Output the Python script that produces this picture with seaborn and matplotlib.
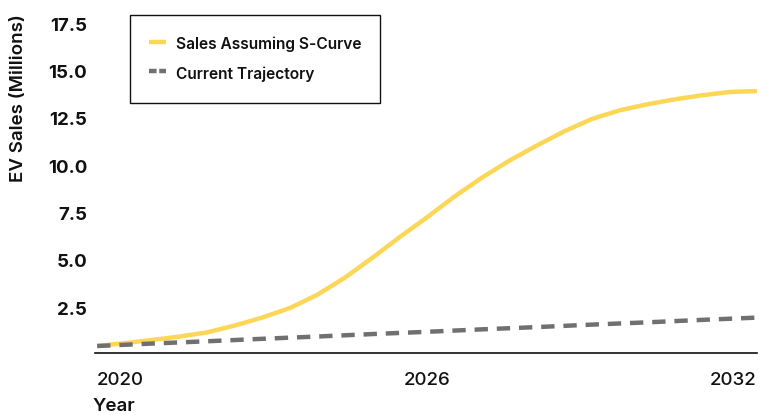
import numpy as np
import pandas as pd
import matplotlib
matplotlib.use("Agg")
import matplotlib.pyplot as plt
import seaborn as sns
from matplotlib.lines import Line2D

# Data
s_years = [2020.0, 2020.5, 2021.0, 2021.5, 2022.0, 2022.5, 2023.0, 2023.5, 2024.0,
           2024.5, 2025.0, 2025.5, 2026.0, 2026.5, 2027.0, 2027.5, 2028.0, 2028.5,
           2029.0, 2029.5, 2030.0, 2030.5, 2031.0, 2031.5, 2032.0]
s_curve = [0.50, 0.65, 0.82, 1.00, 1.22, 1.58, 2.00, 2.50, 3.20,
           4.10, 5.15, 6.25, 7.30, 8.40, 9.40, 10.30, 11.10, 11.85,
           12.50, 12.95, 13.27, 13.53, 13.75, 13.92, 13.97]
t_years = [2020, 2021, 2022, 2023, 2024, 2025, 2026, 2027, 2028, 2029, 2030, 2031, 2032]
trajectory = [0.50, 0.63, 0.75, 0.88, 1.00, 1.13, 1.25, 1.38, 1.50, 1.63, 1.75, 1.88, 2.00]
series_names = ["Sales Assuming S-Curve", "Current Trajectory"]
x_ticks = [2020, 2026, 2032]
y_ticks = [2.5, 5.0, 7.5, 10.0, 12.5, 15.0, 17.5]

df = pd.concat([
    pd.DataFrame({"Year": s_years, "Sales": s_curve, "Series": series_names[0]}),
    pd.DataFrame({"Year": t_years, "Sales": trajectory, "Series": series_names[1]}),
])

sns.set_style("white")
plt.rcParams["font.family"] = ["Inter", "DejaVu Sans"]

YELLOW = "#FCD757"
GRAY = "#707070"
INK = "#111111"

fig = plt.figure(figsize=(7.61, 4.15), dpi=100)
ax = fig.add_axes([0.1248, 0.1494, 0.8699, 0.8149])

palette = {series_names[0]: YELLOW, series_names[1]: GRAY}
sns.lineplot(data=df, x="Year", y="Sales", hue="Series", style="Series",
             palette=palette, dashes={series_names[0]: "", series_names[1]: (3, 2)},
             linewidth=3.2, ax=ax, legend=False)
for ln in ax.get_lines():
    ln.set_solid_capstyle("butt")
    ln.set_dash_capstyle("butt")
    ln.set_solid_joinstyle("round")

ax.set_xlim(2019.96, 2032.0)
ax.set_ylim(0.13, 18.0)
ax.set_xticks(x_ticks)
ax.set_xticklabels([str(t) for t in x_ticks], fontsize=13.5, fontweight="medium", color=INK)
ax.set_yticks(y_ticks)
ax.set_yticklabels([f"{v:.1f}" for v in y_ticks], fontsize=13.5,
                   fontweight="bold", color=INK)
xl = ax.get_xticklabels()
xl[0].set_ha("left")
xl[-1].set_ha("right")
ax.tick_params(axis="x", length=0, pad=14)
ax.tick_params(axis="y", length=0, pad=5.5)

for side in ["top", "right", "left"]:
    ax.spines[side].set_visible(False)
ax.spines["bottom"].set_color(INK)
ax.spines["bottom"].set_linewidth(1.2)

ax.set_xlabel("")
ax.set_ylabel("")
fig.text(19 / 761, 1 - 14 / 415, "EV Sales (Millions)", rotation=90, fontsize=13.5,
         fontweight="semibold", color=INK, ha="center", va="top")
fig.text(93 / 761, 1 - 410.5 / 415, "Year", fontsize=13.5, fontweight="semibold",
         color=INK, ha="left", va="baseline")

handles = [Line2D([], [], color=YELLOW, lw=3.2, solid_capstyle="butt"),
           Line2D([], [], color=GRAY, lw=3.2, dashes=(1.7, 0.6), dash_capstyle="butt")]
leg = ax.legend(handles, series_names, loc="upper left",
                bbox_to_anchor=(130 / 761, 1 - 15 / 415), bbox_transform=fig.transFigure,
                frameon=True, fancybox=False, edgecolor=INK, framealpha=1,
                fontsize=11.2, handlelength=1.1, handletextpad=0.65, handleheight=1.75,
                borderpad=1.2, labelspacing=0.5, borderaxespad=0)
leg.get_frame().set_linewidth(1.0)
for t in leg.get_texts():
    t.set_fontweight("semibold")
    t.set_color(INK)

fig.savefig("out.png", dpi=100)
